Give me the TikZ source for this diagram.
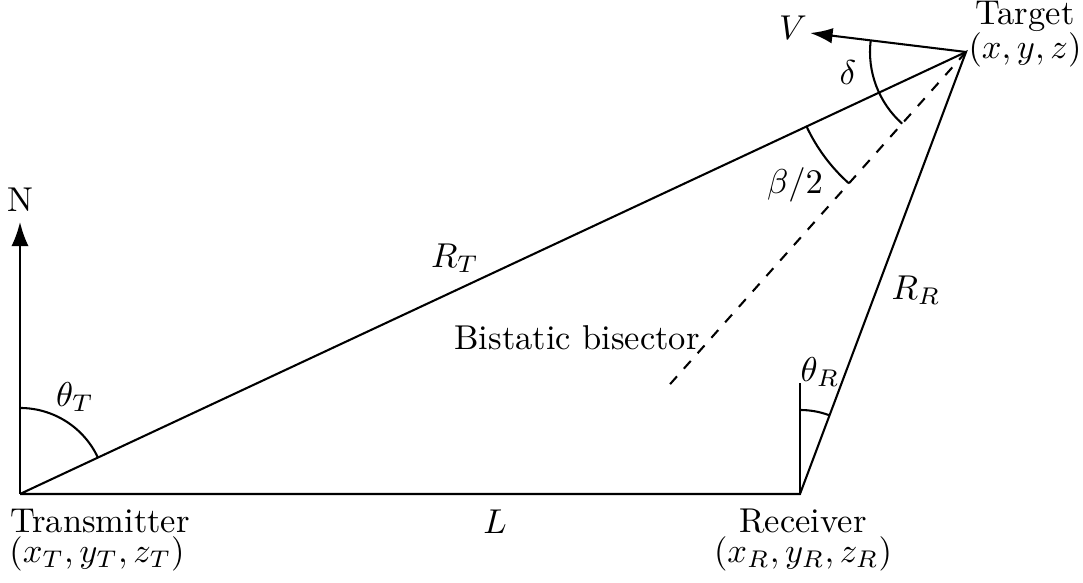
\documentclass[tikz,border=0pt]{standalone}
\usetikzlibrary{arrows.meta,calc}
\begin{document}
\begin{tikzpicture}[x=0.29pt,y=0.29pt,
  ln/.style={line width=0.6pt},
  arr/.style={line width=0.6pt,-{Latex[length=7pt,width=5pt]}},
  lbl/.style={inner sep=0pt,anchor=center}]
\useasboundingbox (0,0) rectangle (1083,583);
\coordinate (T) at (20,89);
\coordinate (R) at (800,89);
\coordinate (G) at (966,531);
\coordinate (Ntip) at (20,361);
\coordinate (Rtop) at (800,200);
\coordinate (Vtip) at ($(G)+(173.06:157)$);
\coordinate (Bend) at ($(G)+(228.3:455)$);
% main triangle
\draw[ln] (T) -- (R) -- (G) -- (T);
% north arrow
\draw[arr] (T) -- (Ntip);
\draw[ln] (R) -- (Rtop);
% velocity
\draw[line width=0.6pt,-{Latex[length=6.5pt,width=4.5pt]}] (G) -- (Vtip);
% bisector
\draw[ln,dashed] (G) -- (Bend);
% angle arcs
\draw[ln] (T) ++(90:86) arc[start angle=90,end angle=25.05,radius=86];
\draw[ln] (R) ++(90:84) arc[start angle=90,end angle=69.42,radius=84];
\draw[ln] (G) ++(173.06:96) arc[start angle=173.06,end angle=228.3,radius=96];
\draw[ln] (G) ++(205.05:176) arc[start angle=205.05,end angle=228.3,radius=176];
% labels
\node[lbl] (nN) at (20,383) {N};
\node[lbl] (nthT) at (75,186) {$\theta_T$};
\node[lbl] (nthR) at (820,211) {$\theta_R$};
\node[lbl] (nRT) at (455,325) {$R_T$};
\node[lbl] (nRR) at (916,293) {$R_R$};
\node[lbl] (nL) at (495,61) {$L$};
\node[lbl] (nbis) at (577,245) {Bistatic bisector};
\node[lbl] (nbeta) at (795,398) {$\beta/2$};
\node[lbl] (ndel) at (848,510) {$\delta$};
\node[lbl] (nV) at (793,555) {$V$};
\node[lbl] (ntg) at (1025,567) {Target};
\node[lbl] (ntgc) at (1025,533) {$(x,y,z)$};
\node[lbl] (ntx) at (100,62) {Transmitter};
\node[lbl] (ntxc) at (97,29) {$(x_T,y_T,z_T)$};
\node[lbl] (nrx) at (803,62) {Receiver};
\node[lbl] (nrxc) at (803,29) {$(x_R,y_R,z_R)$};
\end{tikzpicture}
\end{document}
